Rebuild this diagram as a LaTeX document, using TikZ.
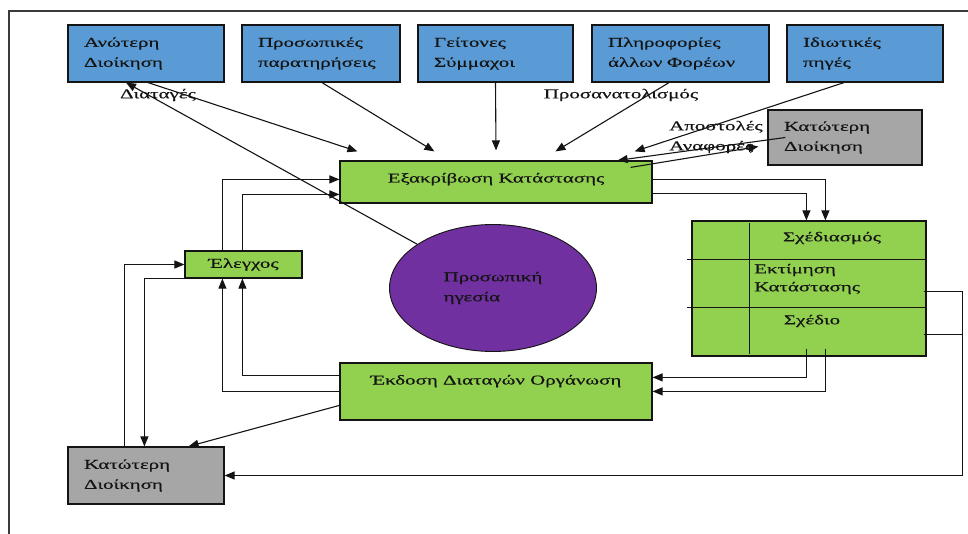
\documentclass[tikz,border=0pt]{standalone}
\usepackage{fontspec}
\setmainfont{Liberation Serif}[FakeStretch=1.55,FakeBold=0.4]
\usepackage{xcolor}
\usepackage{tikz}
\usetikzlibrary{calc,arrows.meta,shapes.geometric}
\definecolor{ink}{HTML}{141414}
\definecolor{frameline}{HTML}{3A3A3A}
\definecolor{srcblue}{HTML}{5A9BD5}
\definecolor{actgreen}{HTML}{92D050}
\definecolor{lowgray}{HTML}{A6A6A6}
\definecolor{leadpurple}{HTML}{7030A0}
\newcommand{\diagfont}{\fontsize{13.5}{20}\selectfont}
\tikzset{
  box/.style={draw=ink, line width=1.2pt, inner ysep=0pt, font=\diagfont, text=ink},
  srcbox/.style={box, fill=srcblue, align=left, inner xsep=16pt, minimum height=57pt},
  lowbox/.style={box, fill=lowgray, align=left, inner xsep=16pt},
  actbox/.style={box, fill=actgreen, align=center, inner xsep=0pt},
  ell/.style={ellipse, draw=ink, line width=0.9pt, fill=leadpurple, align=left, inner sep=0pt,
    minimum width=207pt, minimum height=127pt, font=\diagfont, text=ink},
  lab/.style={font=\diagfont, text=ink, inner sep=0pt},
  conn/.style={draw=ink, line width=1.1pt},
  arr/.style={conn, -{Triangle[length=10pt,width=8pt]}}
}
\begin{document}
\begin{tikzpicture}[x=1pt, y=-1pt]
  \useasboundingbox (0,0) rectangle (968,534);
  \draw[frameline, line width=1.6pt] (9,534) -- (9,11) -- (968,11);

  \node[srcbox, text width=124pt] (anot)   at (146,53.5)   {Ανώτερη\\Διοίκηση};
  \node[srcbox, text width=126pt] (prosop) at (321,53.5)   {Προσωπικές\\παρατηρήσεις};
  \node[srcbox, text width=123pt] (geit)   at (495.5,53.5) {Γείτονες\\Σύμμαχοι};
  \node[srcbox, text width=145pt] (plir)   at (680.5,53.5) {Πληροφορίες\\άλλων Φορέων};
  \node[srcbox, text width=124pt] (idiot)  at (865,53.5)   {Ιδιωτικές\\πηγές};

  \node[lowbox, text width=122pt, minimum height=55pt] (katA) at (845,137.5) {Κατώτερη\\Διοίκηση};
  \node[lowbox, text width=124pt, minimum height=57pt] (katB) at (146,475.5) {Κατώτερη\\Διοίκηση};

  \node[actbox, minimum width=312pt, text height=21.5pt, text depth=20.5pt] (exakr) at (496,182) {Εξακρίβωση Κατάστασης};
  \node[actbox, minimum width=312pt, text height=21.5pt, text depth=35.5pt] (ekdos) at (496,391.5) {Έκδοση Διαταγών Οργάνωση};
  \node[actbox, minimum width=117pt, minimum height=27pt] (elegx) at (243.5,264.5) {Έλεγχος};
  \node[ell] (igesia) at (493,288) {Προσωπική\\ηγεσία};

  \node[actbox, minimum width=234pt, minimum height=135pt] (sxed) at (809,288.5) {};
  \draw[conn] ($(sxed.north west)+(58,3)$) -- ($(sxed.south west)+(58,-3)$);
  \draw[conn] ($(sxed.north west)+(-4,39)$) -- ($(sxed.north east)+(0,39)$);
  \draw[conn] ($(sxed.north west)+(-4,87)$) -- ($(sxed.north east)+(0,87)$);
  \node[lab] (sxedt) at (832,238) {Σχέδιασμός};
  \node[lab, align=left, anchor=west, font=\fontsize{13.5}{18}\selectfont] (ektim) at (754,279) {Εκτίμηση\\Κατάστασης};
  \node[lab] (sxedio) at (812,321) {Σχέδιο};

  \node[lab] (diat) at (158,95) {Διαταγές};
  \node[lab] (prosan) at (621,95) {Προσανατολισμός};
  \node[lab, align=left, anchor=west] (apost) at (669,137) {Αποστολές\\Αναφορές};

  % inputs to Εξακρίβωση
  \draw[arr] ($(anot.south)+(2,0)$) -- ($(exakr.north west)+(18,-9)$);
  \draw[arr] ($(prosop.south)+(1,0)$) -- ($(exakr.north west)+(95,-9)$);
  \draw[arr] (geit.south) -- ($(exakr.north)+(0,-10)$);
  \draw[arr] ($(plir.south)+(-11.5,0)$) -- ($(exakr.north west)+(216,-9)$);
  \draw[arr] ($(idiot.south)+(-21,0)$) -- ($(exakr.north east)+(-18,-9)$);
  \draw[arr] ($(katA.west)+(18,0)$) -- ($(exakr.north east)+(-35,0)$);
  \draw[arr] ($(exakr.north east)+(-22,7)$) -- ($(katA.west)+(-9,9)$);
  \draw[arr] (igesia.150) -- ($(anot.south)+(-20,0)$);

  \draw[arr] ($(exakr.north east)+(0,19)$) -| ($(sxed.north west)+(134,0)$);
  \draw[arr] ($(exakr.north east)+(0,33)$) -| ($(sxed.north west)+(115,0)$);
  \draw[arr] ($(sxed.south west)+(115,-8)$) |- ($(ekdos.north east)+(0,15)$);
  \draw[arr] ($(sxed.south west)+(134,-8)$) |- ($(ekdos.north east)+(0,29)$);
  \draw[arr] ($(sxed.north east)+(-3,71)$) -- ($(sxed.north east)+(36,71)$) |- (katB.east);
  \draw[conn] ($(sxed.north east)+(-3,114)$) -- ($(sxed.north east)+(36,114)$);

  % loop through Έλεγχος
  \draw[arr] ($(elegx.north west)+(38,0)$) |- ($(exakr.north west)+(0,19)$);
  \draw[arr] ($(elegx.north west)+(58,0)$) |- ($(exakr.north west)+(0,34)$);
  \draw[arr] ($(ekdos.north west)+(0,13)$) -| ($(elegx.south west)+(58,0)$);
  \draw[arr] ($(ekdos.north west)+(0,29)$) -| ($(elegx.south west)+(38,0)$);
  \draw[arr] ($(katB.north west)+(57,0)$) |- (elegx.west);
  \draw[arr] (elegx.south west) -| ($(katB.north west)+(77,0)$);
  \draw[arr] ($(ekdos.north west)+(0,43)$) -- ($(katB.north east)+(-36,0)$);
\end{tikzpicture}
\end{document}
